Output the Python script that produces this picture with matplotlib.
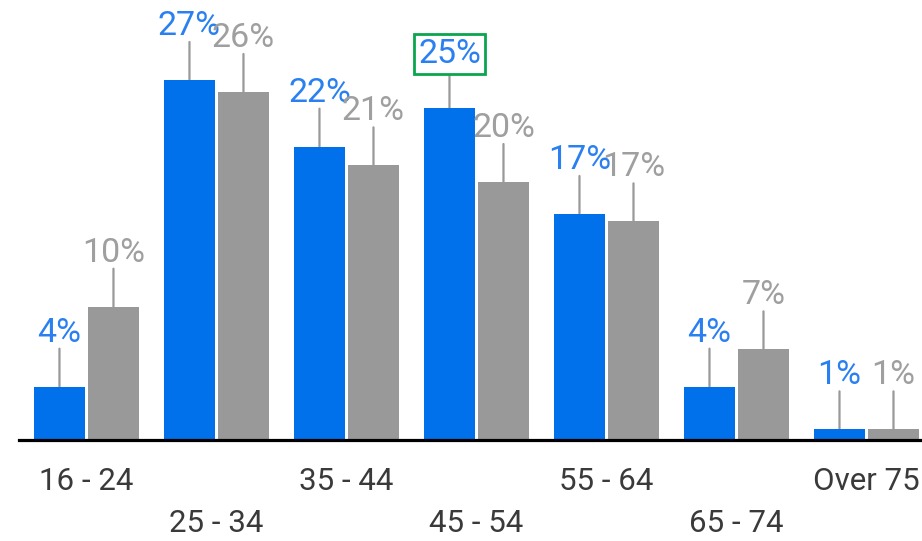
import matplotlib
matplotlib.use("Agg")
import matplotlib.pyplot as plt

plt.rcParams['font.family'] = ['Roboto', 'DejaVu Sans']

# data
groups = ['16 - 24', '25 - 34', '35 - 44', '45 - 54', '55 - 64', '65 - 74', 'Over 75']
blue_vals = [4.0, 27.0, 22.0, 24.9, 16.95, 4.0, 0.8]
gray_vals = [10.0, 26.1, 20.6, 19.35, 16.4, 6.8, 0.8]
blue_labels = ['4%', '27%', '22%', '25%', '17%', '4%', '1%']
gray_labels = ['10%', '26%', '21%', '20%', '17%', '7%', '1%']
highlight = 3  # the boxed label

blue = '#0071eb'
gray = '#999999'
blue_txt = '#2a80f0'
gray_txt = '#9f9f9f'
green = '#0aa54f'

W, H = 922, 541
fig = plt.figure(figsize=(W / 100, H / 100), dpi=100)
ax = fig.add_axes([19 / W, 101 / H, (W - 19) / W, 440 / H])

x = list(range(len(groups)))
off = 0.2077
bw = 0.392
ax.bar([i - off for i in x], blue_vals, width=bw, color=blue, zorder=2)
ax.bar([i + off for i in x], gray_vals, width=bw, color=gray, zorder=2)

ax.set_xlim(-0.519, 6.427)
ax.set_ylim(0, 33.0)
for s in ['top', 'right', 'left']:
    ax.spines[s].set_visible(False)
ax.spines['bottom'].set_linewidth(2.3)
ax.spines['bottom'].set_color('black')
ax.spines['bottom'].set_zorder(3)
ax.set_yticks([])
ax.set_xticks([])


def value_label(xc, v, txt, color, boxed=False):
    # leader line
    ax.annotate('', xy=(xc, v), xytext=(0, 38), textcoords='offset pixels',
                arrowprops=dict(arrowstyle='-', color=gray, lw=1.6,
                                shrinkA=0, shrinkB=0), zorder=1)
    kw = {}
    if boxed:
        kw['bbox'] = dict(boxstyle='square,pad=0.12', fc='white', ec=green, lw=2.0)
    ax.annotate(txt, xy=(xc, v), xytext=(0, 45), textcoords='offset pixels',
                ha='center', va='baseline', fontsize=24.5, color=color,
                annotation_clip=False, zorder=4, **kw)


for i in x:
    value_label(i - off, blue_vals[i], blue_labels[i], blue_txt, boxed=(i == highlight))
for i in x:
    value_label(i + off, gray_vals[i], gray_labels[i], gray_txt)

# staggered category labels
for i, g in enumerate(groups):
    dy = -50 if i % 2 == 0 else -92
    ax.annotate(g, xy=(i, 0), xytext=(0, dy), textcoords='offset pixels',
                ha='center', va='baseline', fontsize=22.5, color='#3a3a3a',
                annotation_clip=False)

fig.savefig('out.png', dpi=100)
